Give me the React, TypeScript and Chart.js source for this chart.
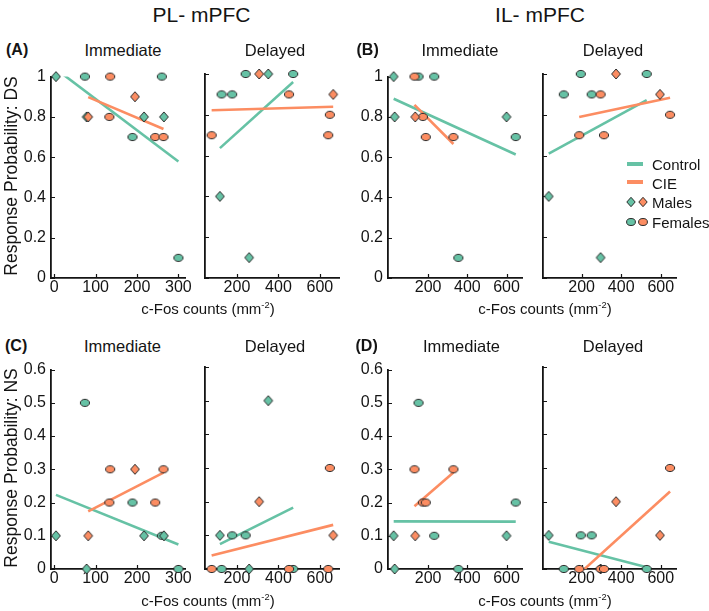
import { useEffect, useRef } from 'react';
import { Chart, registerables } from 'chart.js';

Chart.register(...registerables);

const TEAL = '#66c2a5';
const ORANGE = '#fc8d62';
const INK = '#141414';
const FONT = '"Liberation Sans", Arial, Helvetica, sans-serif';

// ---------- PL-mPFC, Immediate ----------
const plImmCtrlFos = [4, 78, 217, 265, 74, 260, 189, 300];
const plImmCtrlSex = ['M', 'M', 'M', 'M', 'F', 'F', 'F', 'F'];
const plImmCtrlDS = [1, 0.8, 0.8, 0.8, 1, 1, 0.7, 0.1];
const plImmCtrlNS = [0.1, 0, 0.1, 0.1, 0.5, 0.1, 0.2, 0];
const plImmCieFos = [82, 195, 135, 133, 244, 264];
const plImmCieSex = ['M', 'M', 'F', 'F', 'F', 'F'];
const plImmCieDS = [0.8, 0.9, 1, 0.8, 0.7, 0.7];
const plImmCieNS = [0.1, 0.3, 0.3, 0.2, 0.2, 0.3];

// ---------- PL-mPFC, Delayed ----------
const plDelCtrlFos = [351, 118, 259, 242, 471, 126, 177];
const plDelCtrlSex = ['M', 'M', 'M', 'F', 'F', 'F', 'F'];
const plDelCtrlDS = [1, 0.4, 0.1, 1, 1, 0.9, 0.9];
const plDelCtrlNS = [0.5, 0.1, 0, 0.1, 0, 0, 0.1];
const plDelCieFos = [307, 664, 451, 648, 78, 640];
const plDelCieSex = ['M', 'M', 'F', 'F', 'F', 'F'];
const plDelCieDS = [1, 0.9, 0.9, 0.8, 0.7, 0.7];
const plDelCieNS = [0.2, 0.1, 0, 0.3, 0, 0];

// ---------- IL-mPFC, Immediate ----------
const ilImmCtrlFos = [24, 29, 600, 151, 231, 647, 354];
const ilImmCtrlSex = ['M', 'M', 'M', 'F', 'F', 'F', 'F'];
const ilImmCtrlDS = [1, 0.8, 0.8, 1, 1, 0.7, 0.1];
const ilImmCtrlNS = [0.1, 0, 0.1, 0.5, 0.1, 0.2, 0];
const ilImmCieFos = [134, 130, 173, 188, 329];
const ilImmCieSex = ['M', 'F', 'F', 'F', 'F'];
const ilImmCieDS = [0.8, 1, 0.8, 0.7, 0.7];
const ilImmCieNS = [0.1, 0.3, 0.2, 0.2, 0.3];

// ---------- IL-mPFC, Delayed ----------
const ilDelCtrlFos = [34, 296, 196, 529, 110, 251];
const ilDelCtrlSex = ['M', 'M', 'F', 'F', 'F', 'F'];
const ilDelCtrlDS = [0.4, 0.1, 1, 1, 0.9, 0.9];
const ilDelCtrlNS = [0.1, 0, 0.1, 0, 0, 0.1];
const ilDelCieFos = [374, 596, 296, 647, 188, 313];
const ilDelCieSex = ['M', 'M', 'F', 'F', 'F', 'F'];
const ilDelCieDS = [1, 0.9, 0.9, 0.8, 0.7, 0.7];
const ilDelCieNS = [0.2, 0.1, 0, 0.3, 0, 0];

// ---------- axes ----------
const plImmXRange = [-8, 316];
const plDelXRange = [46, 692];
const ilImmXRange = [-5, 679];
const ilDelXRange = [5, 677];
const immPLXTicks = [0, 100, 200, 300];
const wideXTicks = [200, 400, 600];
const dsYTicks = [0, 0.2, 0.4, 0.6, 0.8, 1];
const nsYTicks = [0, 0.1, 0.2, 0.3, 0.4, 0.5, 0.6];

// canvas margins around each plot box
const PAD_L = 46;
const PAD_T = 12;
const PAD_R = 16;
const PAD_B = 28;
const TICK_FONT = 16;

type Group = { fos: number[]; sex: string[]; val: number[] };
type Panel = {
  ctrl: Group;
  cie: Group;
  xRange: number[];
  xTicks: number[];
  yTicks: number[];
  yLabels: boolean;
  box: number[];
};

const COL_X = [
  [51, 185],
  [205, 339],
  [388, 522],
  [543, 676],
];
const ROW_Y = [
  [74, 278],
  [367, 569],
];

const panels: Panel[] = [
  // row 1: DS
  {
    ctrl: { fos: plImmCtrlFos, sex: plImmCtrlSex, val: plImmCtrlDS },
    cie: { fos: plImmCieFos, sex: plImmCieSex, val: plImmCieDS },
    xRange: plImmXRange, xTicks: immPLXTicks, yTicks: dsYTicks, yLabels: true,
    box: [COL_X[0][0], ROW_Y[0][0], COL_X[0][1], ROW_Y[0][1]],
  },
  {
    ctrl: { fos: plDelCtrlFos, sex: plDelCtrlSex, val: plDelCtrlDS },
    cie: { fos: plDelCieFos, sex: plDelCieSex, val: plDelCieDS },
    xRange: plDelXRange, xTicks: wideXTicks, yTicks: dsYTicks, yLabels: false,
    box: [COL_X[1][0], ROW_Y[0][0], COL_X[1][1], ROW_Y[0][1]],
  },
  {
    ctrl: { fos: ilImmCtrlFos, sex: ilImmCtrlSex, val: ilImmCtrlDS },
    cie: { fos: ilImmCieFos, sex: ilImmCieSex, val: ilImmCieDS },
    xRange: ilImmXRange, xTicks: wideXTicks, yTicks: dsYTicks, yLabels: true,
    box: [COL_X[2][0], ROW_Y[0][0], COL_X[2][1], ROW_Y[0][1]],
  },
  {
    ctrl: { fos: ilDelCtrlFos, sex: ilDelCtrlSex, val: ilDelCtrlDS },
    cie: { fos: ilDelCieFos, sex: ilDelCieSex, val: ilDelCieDS },
    xRange: ilDelXRange, xTicks: wideXTicks, yTicks: dsYTicks, yLabels: false,
    box: [COL_X[3][0], ROW_Y[0][0], COL_X[3][1], ROW_Y[0][1]],
  },
  // row 2: NS
  {
    ctrl: { fos: plImmCtrlFos, sex: plImmCtrlSex, val: plImmCtrlNS },
    cie: { fos: plImmCieFos, sex: plImmCieSex, val: plImmCieNS },
    xRange: plImmXRange, xTicks: immPLXTicks, yTicks: nsYTicks, yLabels: true,
    box: [COL_X[0][0], ROW_Y[1][0], COL_X[0][1], ROW_Y[1][1]],
  },
  {
    ctrl: { fos: plDelCtrlFos, sex: plDelCtrlSex, val: plDelCtrlNS },
    cie: { fos: plDelCieFos, sex: plDelCieSex, val: plDelCieNS },
    xRange: plDelXRange, xTicks: wideXTicks, yTicks: nsYTicks, yLabels: false,
    box: [COL_X[1][0], ROW_Y[1][0], COL_X[1][1], ROW_Y[1][1]],
  },
  {
    ctrl: { fos: ilImmCtrlFos, sex: ilImmCtrlSex, val: ilImmCtrlNS },
    cie: { fos: ilImmCieFos, sex: ilImmCieSex, val: ilImmCieNS },
    xRange: ilImmXRange, xTicks: wideXTicks, yTicks: nsYTicks, yLabels: true,
    box: [COL_X[2][0], ROW_Y[1][0], COL_X[2][1], ROW_Y[1][1]],
  },
  {
    ctrl: { fos: ilDelCtrlFos, sex: ilDelCtrlSex, val: ilDelCtrlNS },
    cie: { fos: ilDelCieFos, sex: ilDelCieSex, val: ilDelCieNS },
    xRange: ilDelXRange, xTicks: wideXTicks, yTicks: nsYTicks, yLabels: false,
    box: [COL_X[3][0], ROW_Y[1][0], COL_X[3][1], ROW_Y[1][1]],
  },
];

// least-squares line over the group's c-Fos range
function fitLine(xs: number[], ys: number[]) {
  const n = xs.length;
  const mx = xs.reduce((a, b) => a + b, 0) / n;
  const my = ys.reduce((a, b) => a + b, 0) / n;
  let sxy = 0;
  let sxx = 0;
  for (let i = 0; i < n; i++) {
    sxy += (xs[i] - mx) * (ys[i] - my);
    sxx += (xs[i] - mx) * (xs[i] - mx);
  }
  const slope = sxy / sxx;
  const x0 = Math.min(...xs);
  const x1 = Math.max(...xs);
  return [
    { x: x0, y: my + slope * (x0 - mx) },
    { x: x1, y: my + slope * (x1 - mx) },
  ];
}

function makeMarker(shape: 'ellipse' | 'diamond', fill: string) {
  const c = document.createElement('canvas');
  c.width = 12;
  c.height = shape === 'ellipse' ? 10 : 12;
  const g = c.getContext('2d')!;
  g.fillStyle = fill;
  g.strokeStyle = '#2a2a2a';
  g.lineWidth = 1;
  g.beginPath();
  if (shape === 'ellipse') {
    g.ellipse(6, 5, 4.6, 3.6, 0, 0, Math.PI * 2);
  } else {
    g.moveTo(6, 1);
    g.lineTo(10.4, 6);
    g.lineTo(6, 11);
    g.lineTo(1.6, 6);
    g.closePath();
  }
  g.fill();
  g.stroke();
  return c;
}

const inwardTicks = {
  id: 'inwardTicks',
  beforeDatasetsDraw(chart: any) {
    const { ctx, chartArea: a, scales } = chart;
    const x = scales.x;
    const y = scales.y;
    ctx.save();
    ctx.strokeStyle = INK;
    ctx.lineWidth = 1.2;
    ctx.beginPath();
    x.ticks.forEach((t: any) => {
      const px = Math.round(x.getPixelForValue(t.value)) + 0.5;
      ctx.moveTo(px, a.bottom);
      ctx.lineTo(px, a.bottom - 4);
    });
    y.ticks.forEach((t: any) => {
      const py = Math.round(y.getPixelForValue(t.value)) + 0.5;
      ctx.moveTo(a.left, py);
      ctx.lineTo(a.left + 4, py);
    });
    ctx.stroke();
    ctx.restore();
  },
};

function Subplot({ p }: { p: Panel }) {
  const ref = useRef<HTMLCanvasElement>(null);
  const [L, T, R, B] = p.box;
  const W = R - L + PAD_L + PAD_R;
  const H = B - T + PAD_T + PAD_B;

  useEffect(() => {
    const marks = {
      ctrlM: makeMarker('diamond', TEAL),
      ctrlF: makeMarker('ellipse', TEAL),
      cieM: makeMarker('diamond', ORANGE),
      cieF: makeMarker('ellipse', ORANGE),
    };
    const pick = (g: Group, sex: string) =>
      g.fos
        .map((x, i) => ({ x, y: g.val[i], s: g.sex[i] }))
        .filter((d) => d.s === sex)
        .map(({ x, y }) => ({ x, y }));
    const pointSet = (data: any[], img: HTMLCanvasElement) => ({
      data,
      pointStyle: img,
      pointRadius: 4,
      pointHoverRadius: 4,
      showLine: false,
      clip: false,
      order: 0,
    });
    const lineSet = (data: any[], color: string) => ({
      data,
      showLine: true,
      borderColor: color,
      borderWidth: 2.6,
      pointRadius: 0,
      pointHoverRadius: 0,
      clip: 0,
      order: 1,
    });

    const chart = new Chart(ref.current!, {
      type: 'scatter',
      data: {
        datasets: [
          pointSet(pick(p.cie, 'M'), marks.cieM),
          pointSet(pick(p.cie, 'F'), marks.cieF),
          pointSet(pick(p.ctrl, 'M'), marks.ctrlM),
          pointSet(pick(p.ctrl, 'F'), marks.ctrlF),
          lineSet(fitLine(p.cie.fos, p.cie.val), ORANGE),
          lineSet(fitLine(p.ctrl.fos, p.ctrl.val), TEAL),
        ] as any,
      },
      options: {
        animation: false,
        responsive: false,
        events: [],
        layout: { padding: { left: 0, top: PAD_T, right: PAD_R, bottom: 0 } },
        plugins: { legend: { display: false }, tooltip: { enabled: false } },
        scales: {
          x: {
            type: 'linear',
            min: p.xRange[0],
            max: p.xRange[1],
            afterBuildTicks: (s: any) => {
              s.ticks = p.xTicks.map((v) => ({ value: v }));
            },
            afterFit: (s: any) => {
              s.height = PAD_B;
            },
            grid: { display: false, drawTicks: false },
            border: { display: true, color: INK, width: 1.8 },
            ticks: {
              padding: 0,
              autoSkip: false,
              maxRotation: 0,
              color: INK,
              font: { family: FONT, size: TICK_FONT },
              callback: (v: any) => String(v),
            },
          },
          y: {
            type: 'linear',
            min: 0,
            max: p.yTicks[p.yTicks.length - 1],
            afterBuildTicks: (s: any) => {
              s.ticks = p.yTicks.map((v) => ({ value: v }));
            },
            afterFit: (s: any) => {
              s.width = PAD_L;
            },
            grid: { display: false, drawTicks: false },
            border: { display: true, color: INK, width: 1.8 },
            ticks: {
              display: p.yLabels,
              padding: 5,
              autoSkip: false,
              color: INK,
              font: { family: FONT, size: TICK_FONT },
              callback: (v: any) => String(v),
            },
          },
        },
      } as any,
      plugins: [inwardTicks],
    });
    return () => chart.destroy();
  }, []);

  return (
    <canvas
      ref={ref}
      width={W}
      height={H}
      style={{ position: 'absolute', left: L - PAD_L, top: T - PAD_T, width: W, height: H }}
    />
  );
}

function Text(props: {
  x: number;
  y: number;
  size: number;
  bold?: boolean;
  left?: boolean;
  rotate?: boolean;
  children: any;
}) {
  const { x, y, size, bold, left, rotate, children } = props;
  const tx = left ? '0' : '-50%';
  return (
    <div
      style={{
        position: 'absolute',
        left: x,
        top: y,
        fontSize: size,
        fontWeight: bold ? 700 : 400,
        lineHeight: 1,
        whiteSpace: 'nowrap',
        color: INK,
        fontFamily: FONT,
        transform: `translate(${tx}, -50%)` + (rotate ? ' rotate(-90deg)' : ''),
      }}
    >
      {children}
    </div>
  );
}

function XTitle({ x, y }: { x: number; y: number }) {
  return (
    <Text x={x} y={y} size={15}>
      c-Fos counts (mm
      <span style={{ fontSize: '0.62em', position: 'relative', top: '-0.6em' }}>-2</span>)
    </Text>
  );
}

function LegendMarker({ x, y, shape, color }: { x: number; y: number; shape: string; color: string }) {
  return (
    <svg width={12} height={12} style={{ position: 'absolute', left: x - 6, top: y - 6 }}>
      {shape === 'ellipse' ? (
        <ellipse cx={6} cy={6} rx={4.4} ry={3.5} fill={color} stroke="#2a2a2a" strokeWidth={1} />
      ) : (
        <polygon points="6,1.3 10.2,6 6,10.7 1.8,6" fill={color} stroke="#2a2a2a" strokeWidth={1} />
      )}
    </svg>
  );
}

function Legend() {
  const tx = 652;
  return (
    <>
      <div style={{ position: 'absolute', left: 627, top: 162, width: 16, height: 4, background: TEAL }} />
      <Text x={tx} y={164} size={15} left>Control</Text>
      <div style={{ position: 'absolute', left: 627, top: 180, width: 16, height: 4, background: ORANGE }} />
      <Text x={tx} y={182.5} size={15} left>CIE</Text>
      <LegendMarker x={631} y={201.5} shape="diamond" color={TEAL} />
      <LegendMarker x={643} y={201.5} shape="diamond" color={ORANGE} />
      <Text x={tx} y={201.5} size={15} left>Males</Text>
      <LegendMarker x={631} y={221.5} shape="ellipse" color={TEAL} />
      <LegendMarker x={643} y={221.5} shape="ellipse" color={ORANGE} />
      <Text x={tx} y={221.5} size={15} left>Females</Text>
    </>
  );
}

export default function App() {
  return (
    <div
      style={{
        position: 'absolute',
        left: 0,
        top: 0,
        width: 709,
        height: 611,
        background: '#ffffff',
        fontFamily: FONT,
        overflow: 'hidden',
      }}
    >
      {panels.map((p, i) => (
        <Subplot key={i} p={p} />
      ))}

      <Text x={201.5} y={14} size={21}>PL- mPFC</Text>
      <Text x={540} y={14} size={21}>IL- mPFC</Text>

      <Text x={6} y={50} size={16} bold left>(A)</Text>
      <Text x={356.5} y={50} size={16} bold left>(B)</Text>
      <Text x={5} y={346} size={16} bold left>(C)</Text>
      <Text x={355.5} y={346} size={16} bold left>(D)</Text>

      <Text x={123} y={50} size={16.5}>Immediate</Text>
      <Text x={275} y={50} size={16.5}>Delayed</Text>
      <Text x={460} y={50} size={16.5}>Immediate</Text>
      <Text x={613} y={50} size={16.5}>Delayed</Text>
      <Text x={122.5} y={346} size={16.5}>Immediate</Text>
      <Text x={275} y={346} size={16.5}>Delayed</Text>
      <Text x={461.5} y={346} size={16.5}>Immediate</Text>
      <Text x={613} y={346} size={16.5}>Delayed</Text>

      <Text x={11.7} y={176} size={17.5} rotate>Response Probability: DS</Text>
      <Text x={11.7} y={468} size={17.5} rotate>Response Probability: NS</Text>

      <XTitle x={208} y={309} />
      <XTitle x={545} y={309} />
      <XTitle x={208} y={601} />
      <XTitle x={545} y={601} />

      <Legend />
    </div>
  );
}
